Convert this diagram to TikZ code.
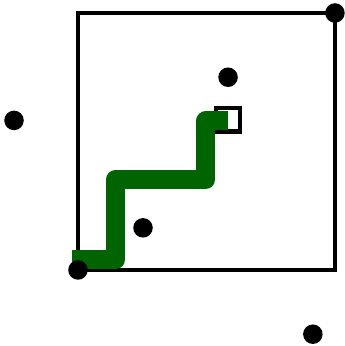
\documentclass[tikz,border=0pt]{standalone}
\begin{document}
\begin{tikzpicture}[
    x=5cm, y=5cm,
    pt/.style={
        circle,
        fill=black,
        inner sep=0pt,
        minimum size=0.38cm
    },
    walk/.style={
        draw={rgb,255:red,0;green,100;blue,0},
        line width=10.5pt,
        line join=round
    }
]
\useasboundingbox (-0.3035,-0.2959) rectangle (1.039,1.0506);

\draw[line width=1.9pt] (0,0) rectangle (1,1);

\node[draw, line width=2.4pt, minimum size=0.46cm, inner sep=0pt] (box) at (0.584,0.585) {};
\draw[walk] (-0.023,0.039) -- (0.146,0.039) -- (0.146,0.352) -- (0.498,0.352) -- (0.498,0.58) -- (0.584,0.58);

\node[pt] (origin) at (0,0) {};
\node[pt] (corner) at (1,1) {};
\node[pt] (top) at (0.584,0.75) {};
\node[pt] (left) at (-0.249,0.582) {};
\node[pt] (inner) at (0.253,0.164) {};
\node[pt] (below) at (0.914,-0.25) {};

\end{tikzpicture}
\end{document}
